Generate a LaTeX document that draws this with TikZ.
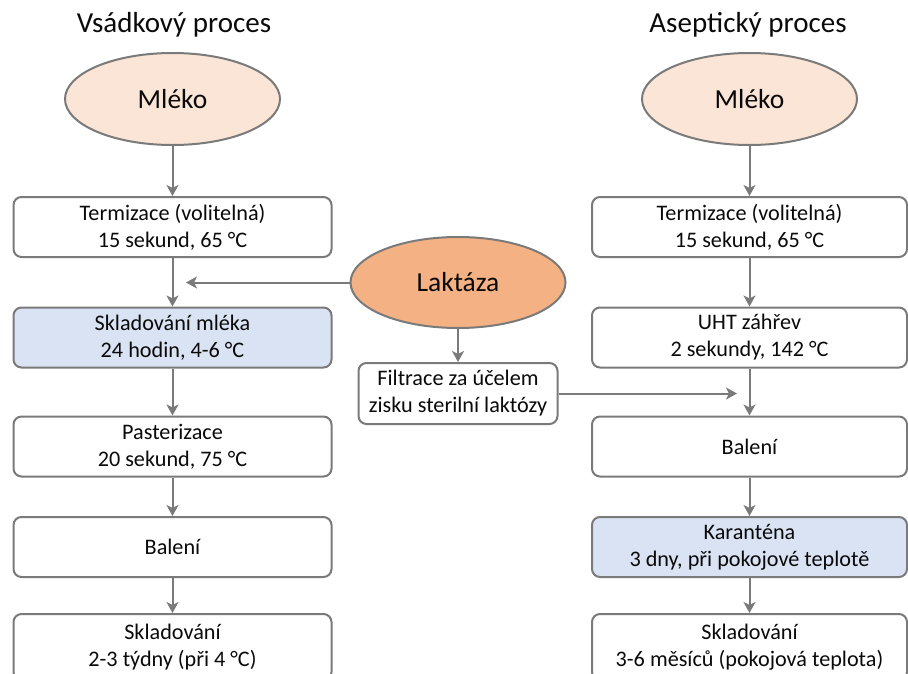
\documentclass[tikz,border=0pt]{standalone}
\usepackage{fontspec}
\setmainfont{Carlito}
\usetikzlibrary{arrows.meta,shapes.geometric}
\definecolor{lnc}{HTML}{7A7A7A}
\definecolor{pinkc}{HTML}{FBE5D6}
\definecolor{orangec}{HTML}{F4B183}
\definecolor{bluec}{HTML}{DAE3F3}
\definecolor{txtc}{HTML}{0A0A0A}
\tikzset{
  proc/.style={draw=lnc, line width=2pt, rounded corners=8pt, fill=white,
    minimum width=318pt, minimum height=60pt, align=center, inner sep=0pt,
    text=txtc, font=\fontsize{22.2}{27}\selectfont},
  oval/.style={ellipse, draw=lnc, line width=2pt, minimum width=215pt,
    minimum height=92pt, inner sep=0pt, text=txtc, font=\fontsize{27.5}{30}\selectfont},
  ttl/.style={text=txtc, font=\fontsize{29}{32}\selectfont},
  arr/.style={draw=lnc, line width=2pt, -{Stealth[length=11pt,width=12pt,inset=3pt]}}
}
\begin{document}
\begin{tikzpicture}[x=1pt,y=-1pt]
\useasboundingbox (0,0) rectangle (908,673);
\clip (0,0) rectangle (908,673);
% titles
\node[ttl] (t1) at (174,25) {Vsádkový proces};
\node[ttl] (t2) at (748,25) {Aseptický proces};
% left column
\node[oval, fill=pinkc] (m1) at (172.5,99) {Mléko};
\node[proc] (l1) at (172.5,227) {Termizace (volitelná)\\15 sekund, 65 °C};
\node[proc, fill=bluec] (l2) at (172.5,337.5) {Skladování mléka\\24 hodin, 4-6 °C};
\node[proc] (l3) at (172.5,446.5) {Pasterizace\\20 sekund, 75 °C};
\node[proc] (l4) at (172.5,547) {Balení};
\node[proc, minimum height=66pt] (l5) at (172.5,647) {Skladování\\2-3 týdny (při 4 °C)};
% right column
\node[oval, fill=pinkc] (m2) at (749.5,99) {Mléko};
\node[proc, minimum width=315pt] (r1) at (749.5,227) {Termizace (volitelná)\\15 sekund, 65 °C};
\node[proc, minimum width=315pt] (r2) at (749.5,337.5) {UHT záhřev\\2 sekundy, 142 °C};
\node[proc, minimum width=315pt] (r3) at (749.5,446.5) {Balení};
\node[proc, minimum width=315pt, fill=bluec] (r4) at (749.5,547) {Karanténa\\3 dny, při pokojové teplotě};
\node[proc, minimum width=315pt, minimum height=66pt] (r5) at (749.5,647) {Skladování\\3-6 měsíců (pokojová teplota)};
% middle
\node[oval, fill=orangec, minimum height=91pt] (lak) at (458,282.5) {Laktáza};
\node[proc, minimum width=199pt, minimum height=61pt] (fil) at (458,393.5) {Filtrace za účelem\\zisku sterilní laktózy};
\coordinate (lj) at (186,282.5);
\coordinate (rj) at (737,393.5);
% arrows
\draw[arr] (m1) -- (l1);
\draw[arr] (l1) -- (l2);
\draw[arr] (l2) -- (l3);
\draw[arr] (l3) -- (l4);
\draw[arr] (l4) -- (l5);
\draw[arr] (m2) -- (r1);
\draw[arr] (r1) -- (r2);
\draw[arr] (r2) -- (r3);
\draw[arr] (r3) -- (r4);
\draw[arr] (r4) -- (r5);
\draw[arr] (lak.west) -- (lj);
\draw[arr] (lak) -- (fil);
\draw[arr] (fil.east) -- (rj);
\end{tikzpicture}
\end{document}
